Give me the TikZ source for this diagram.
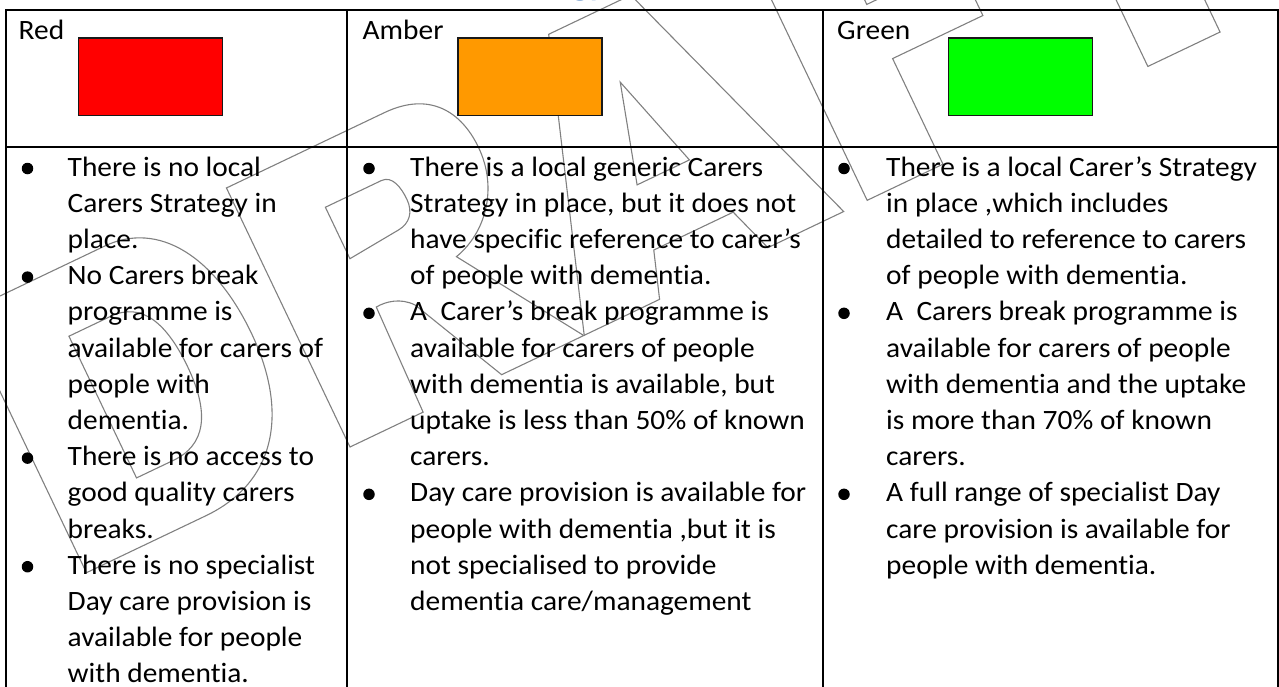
\documentclass[tikz,border=0pt]{standalone}
\usepackage{fontspec}
\setmainfont{Carlito}[Ligatures={NoCommon}, FakeStretch=1.05]
\definecolor{wmgray}{RGB}{128,128,128}
\definecolor{amber}{RGB}{255,153,0}
\definecolor{limegreen}{RGB}{0,255,0}
\definecolor{hblue}{RGB}{79,129,189}
\begin{document}
\begin{tikzpicture}[x=1pt,y=-1pt,
  grid/.style={line width=1.8pt, line cap=rect},
  swatch/.style={draw=black!90, line width=1.4pt, inner sep=0pt, minimum width=144pt, minimum height=77.5pt},
  wm/.style={draw=wmgray, line width=1.1pt, line join=miter},
  txt/.style={anchor=base west, inner sep=0pt, font=\fontsize{28}{36.2}\selectfont},
  dot/.style={circle, fill=black, inner sep=0pt, minimum size=11.5pt}]
\useasboundingbox (0,0) rectangle (1279,686);
% ---- DRAFT watermark (outline letters) ----
\begin{scope}
\clip (0,0) rectangle (1279,686);
\begin{scope}[shift={(350pt,-447pt)}, rotate=25.5, x=1pt, y=1pt]
  % D
  \draw[wm] (-292,0) -- (-292,287) -- (-135,287) .. controls (-75,287) and (-40,230) .. (-40,145)
     .. controls (-40,60) and (-80,0) .. (-160,0) -- cycle;
  \draw[wm] (-206,64) -- (-206,221) -- (-160,221) .. controls (-125,221) and (-112,190) .. (-112,142)
     .. controls (-112,90) and (-130,64) .. (-165,64) -- cycle;
  % R
  \draw[wm] (0,0) -- (0,287) -- (175,287) .. controls (225,287) and (245,255) .. (245,215)
     .. controls (245,170) and (215,135) .. (178,126) -- (259,0) -- (168,0)
     -- (120,100) .. controls (110,113) and (95,116) .. (84,115) -- (81,0) -- cycle;
  \draw[wm] (81,170) -- (81,227) -- (143,227) .. controls (155,227) and (158,212) .. (158,199)
     .. controls (158,185) and (150,176) .. (137,175) -- (81,170) -- cycle;
  % A
  \draw[wm] (259.5,0) -- (357,287) -- (448,287) -- (547,0) -- (463,0) -- (447,47) -- (359,47) -- (343,0) -- cycle;
  \draw[wm] (372,113) -- (401,213) -- (430,113) -- cycle;
  % F
  \draw[wm] (573,0) -- (573,287) -- (790,287) -- (790,227) -- (657,227) -- (657,177) -- (757,177)
     -- (757,117) -- (657,117) -- (657,0) -- cycle;
  % T
  \draw[wm] (884,0) -- (884,227) -- (800,227) -- (800,287) -- (1048,287) -- (1048,227) -- (964,227) -- (964,0) -- cycle;
\end{scope}
\end{scope}
% ---- heading remnant above the table ----
\node[anchor=base west, inner sep=0pt, text=hblue, font=\fontsize{33}{33}\bfseries\selectfont] (head) at (572,-5) {gy};
% ---- table rules ----
\draw[grid] (6,686) -- (6,10) -- (1278,10) -- (1278,686);
\draw[grid] (347,10) -- (347,686);
\draw[grid] (823,10) -- (823,686);
\draw[grid] (6,147) -- (1278,147);
% ---- header row ----
\node[txt] (redlbl) at (18.5,39) {Red};
\node[txt] (amblbl) at (362.5,39) {Amber};
\node[txt] (grnlbl) at (837,39) {Green};
\node[swatch, fill=red] (redbox) at (150.5,76.7) {};
\node[swatch, fill=amber] (ambbox) at (530,76.7) {};
\node[swatch, fill=limegreen] (grnbox) at (1020.5,76.7) {};
% ---- Red column ----
\foreach \t [count=\i] in {{There is no local},{Carers Strategy in},{place.},{No Carers break},{programme is},
  {available for carers of},{people with},{dementia.},{There is no access to},{good quality carers},
  {breaks.},{There is no specialist},{Day care provision is},{available for people},{with dementia.}}
  \node[txt] (r\i) at (67.5,{176+(\i-1)*36.2}) {\t};
\foreach \n in {1,4,9,12}
  \node[dot] (rb\n) at (27.5,{168.5+(\n-1)*36.2}) {};
% ---- Amber column ----
\foreach \t [count=\i] in {{There is a local generic Carers},{Strategy in place, but it does not},
  {have specific reference to carer’s},{of people with dementia.},{A\ \ Carer’s break programme is},
  {available for carers of people},{with dementia is available, but},{uptake is less than 50\% of known},
  {carers.},{Day care provision is available for},{people with dementia ,but it is},
  {not specialised to provide},{dementia care/management}}
  \node[txt] (a\i) at (410,{176+(\i-1)*36.2}) {\t};
\foreach \n in {1,5,10}
  \node[dot] (ab\n) at (369,{168.5+(\n-1)*36.2}) {};
% ---- Green column ----
\foreach \t [count=\i] in {{There is a local Carer’s Strategy},{in place ,which includes},
  {detailed to reference to carers},{of people with dementia.},{A\ \ Carers break programme is},
  {available for carers of people},{with dementia and the uptake},{is more than 70\% of known},
  {carers.},{A full range of specialist Day},{care provision is available for},{people with dementia.}}
  \node[txt] (g\i) at (886,{176+(\i-1)*36.2}) {\t};
\foreach \n in {1,5,10}
  \node[dot] (gb\n) at (844,{168.5+(\n-1)*36.2}) {};
\end{tikzpicture}
\end{document}
